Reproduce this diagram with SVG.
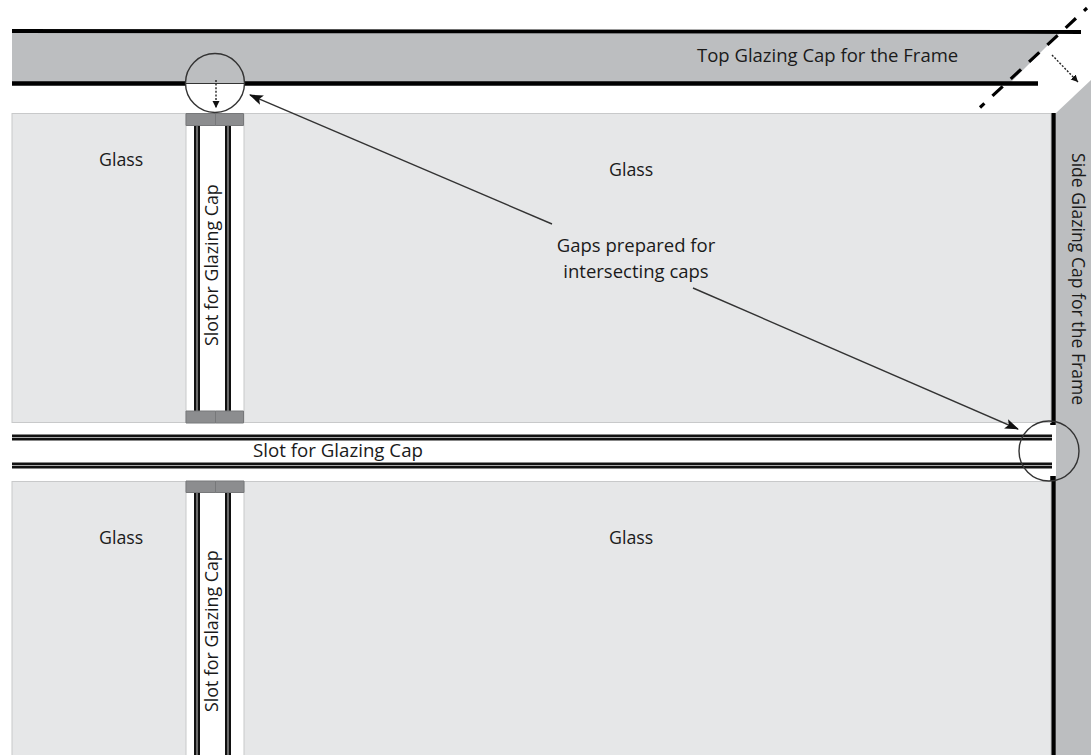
<svg xmlns="http://www.w3.org/2000/svg" width="1091" height="755" viewBox="0 0 1091 755">
<style>
text{font-family:"Open Sans","Noto Sans",sans-serif;font-size:18.500px;fill:#1a1a1a}
.small{font-size:17.800px}
.glass{fill:#e6e7e8;stroke:#c8c9ca;stroke-width:1}
.cap{fill:#bcbec0}
.bar{stroke:#000;stroke-width:4.500;fill:none}
.clip{fill:#8c8d8f;stroke:#77787a;stroke-width:1}
.dbl{stroke:#111;stroke-width:6;fill:none}
.dblc{stroke:#a8a8a8;stroke-width:1.200;fill:none}
.thin{stroke:#333;stroke-width:1.400;fill:none}
.dot{stroke:#222;stroke-width:1.400;stroke-dasharray:2 1.600;fill:none}
</style>
<defs>
<marker id="big" markerWidth="14" markerHeight="12" refX="13" refY="5" orient="auto" markerUnits="userSpaceOnUse"><path d="M0,0L14,5L0,10L3,5Z" fill="#111"/></marker>
<marker id="small" markerWidth="8" markerHeight="8" refX="7" refY="3.500" orient="auto" markerUnits="userSpaceOnUse"><path d="M0,0L7,3.500L0,7Z" fill="#111"/></marker>
</defs>
<rect width="1091" height="755" fill="#fff"/>
<g id="top-cap">
<polygon class="cap" points="12,31 1062,31 1010,83 12,83"/>
<path d="M12,31L1081,32" stroke="#000" stroke-width="3.800" fill="none"/>
<path class="bar" d="M12,83.500H186M244,83.500H1038"/>
<path d="M186,83.500H244" stroke="#333" stroke-width="1.200" fill="none"/>
<text x="697" y="62">Top Glazing Cap for the Frame</text>
</g>
<g id="side-cap">
<polygon class="cap" points="1091,80 1056,113 1056,755 1091,755"/>
<path d="M1053,113V425M1053,476V755" stroke="#000" stroke-width="5.500" fill="none"/>
<text class="small" transform="translate(1072,153) rotate(90)" style="font-size:17.600px">Side Glazing Cap for the Frame</text>
</g>
<g id="glass-top-left"><rect class="glass" x="12" y="113.500" width="174" height="309"/><text class="small" x="99" y="166">Glass</text></g>
<g id="glass-top-right"><rect class="glass" x="244" y="113.500" width="807" height="309"/><text class="small" x="609" y="176">Glass</text></g>
<g id="glass-bottom-left"><rect class="glass" x="12" y="481.500" width="174" height="290"/><text class="small" x="99" y="544">Glass</text></g>
<g id="glass-bottom-right"><rect class="glass" x="244" y="481.500" width="807" height="290"/><text class="small" x="609" y="544">Glass</text></g>
<g id="slot-top">
<path class="dbl" d="M197,125V411M228,125V411"/><path class="dblc" d="M197,125V411M228,125V411"/>
<path d="M186,113.500H215.500V125.500H186ZM215.500,113.500H243.500V125.500H215.500ZM186,411H215.500V423H186ZM215.500,411H243.500V423H215.500Z" class="clip"/>
<text class="small" transform="translate(218,346) rotate(-90)">Slot for Glazing Cap</text>
</g>
<g id="slot-horizontal">
<path class="dbl" d="M12,437.500H1052M12,465.500H1052"/><path class="dblc" d="M12,437.500H1052M12,465.500H1052"/>
<text x="253" y="457" style="font-size:18.700px">Slot for Glazing Cap</text>
</g>
<g id="slot-bottom">
<path class="dbl" d="M197,492V755M228,492V755"/><path class="dblc" d="M197,492V755M228,492V755"/>
<path d="M186,481H215.500V492.500H186ZM215.500,481H244V492.500H215.500Z" class="clip"/>
<text class="small" transform="translate(218,712) rotate(-90)">Slot for Glazing Cap</text>
</g>
<g id="gap-top"><circle class="thin" cx="215" cy="83" r="29.500"/></g>
<g id="gap-side"><circle class="thin" cx="1049" cy="451" r="30"/></g>
<g id="note"><text x="636" y="252" text-anchor="middle">Gaps prepared for</text><text x="636" y="278" text-anchor="middle">intersecting caps</text></g>
<g id="connectors">
<path d="M980,107.500L1087,8" stroke="#000" stroke-width="3.200" stroke-dasharray="14 11" stroke-dashoffset="8" fill="none"/>
<path class="thin" d="M552,224L250,95" marker-end="url(#big)"/>
<path class="thin" d="M693,288L1018,429" marker-end="url(#big)"/>
<path class="dot" d="M216,80V108" marker-end="url(#small)"/>
<path class="dot" d="M1052,55L1078,82" marker-end="url(#small)"/>
</g>
</svg>
